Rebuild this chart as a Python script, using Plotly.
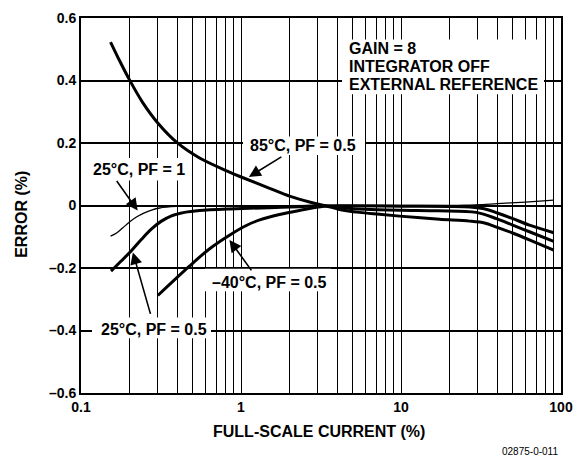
import math
import plotly.graph_objects as go

# Full-scale current (%) and error (%) for each measurement condition
current_85c = [0.153, 0.174, 0.201, 0.242, 0.301, 0.399, 0.551, 0.847, 0.993, 1.51, 2.01, 2.68, 3.3,
               4.13, 5.5, 7.34, 9.8, 17.4, 26.8, 33.3, 39.5, 49.8, 63.5, 90]
error_85c = [0.523, 0.464, 0.402, 0.331, 0.265, 0.201, 0.152, 0.107, 0.092, 0.055, 0.030, 0.011, 0.0,
             -0.0125, -0.022, -0.028, -0.034, -0.044, -0.050, -0.056, -0.069, -0.088, -0.11, -0.143]

current_25c_pf05 = [0.154, 0.179, 0.207, 0.239, 0.276, 0.318, 0.368, 0.444, 0.551, 0.847, 1.51, 2.32, 3.3,
                    4.4, 6.0, 10, 17, 29.5, 39.5, 49.5, 63.5, 90]
error_25c_pf05 = [-0.21, -0.177, -0.144, -0.108, -0.075, -0.050, -0.033, -0.022, -0.016, -0.011, -0.007, -0.004, -0.001,
                  -0.008, -0.012, -0.015, -0.017, -0.022, -0.042, -0.062, -0.084, -0.115]

current_m40c = [0.302, 0.476, 0.634, 0.847, 1.08, 1.31, 1.74, 2.32, 3.3,
                4.4, 10, 20, 27, 34, 40, 50, 63.5, 90]
error_m40c = [-0.288, -0.194, -0.139, -0.095, -0.064, -0.046, -0.029, -0.016, -0.0025,
              -0.001, -0.002, -0.003, -0.005, -0.012, -0.024, -0.042, -0.063, -0.087]

current_25c_pf1 = [0.153, 0.167, 0.182, 0.201, 0.222, 0.249, 0.276, 0.31, 0.395, 0.55, 1.0, 3.3, 10, 25, 40, 60, 90]
error_25c_pf1 = [-0.098, -0.088, -0.072, -0.053, -0.037, -0.0235, -0.0145, -0.008, -0.003, -0.0015, -0.0005, 0, 0, 0.001, 0.006, 0.011, 0.017]

x_tick_vals = [0.1, 1, 10, 100]
x_tick_text = ["0.1", "1", "10", "100"]
y_tick_vals = [0.6, 0.4, 0.2, 0, -0.2, -0.4, -0.6]
y_tick_text = ["0.6", "0.4", "0.2", "0", "\u20130.2", "\u20130.4", "\u20130.6"]
minor_x = [m * d for d in (0.1, 1, 10) for m in range(2, 10)]

W, H = 584, 461
ML, MR, MT, MB = 81, 23, 10, 68
PW, PH = W - ML - MR, H - MT - MB
FONT = "Liberation Sans, Arial, Helvetica, sans-serif"


def px(xp):
    return (xp - ML) / PW


def py(yp):
    return (H - MB - yp) / PH


fig = go.Figure()

series = [
    (current_85c, error_85c, 3.0),
    (current_25c_pf05, error_25c_pf05, 3.0),
    (current_m40c, error_m40c, 3.0),
    (current_25c_pf1, error_25c_pf1, 1.3),
]
for xs, ys, w in series:
    fig.add_trace(go.Scatter(
        x=xs, y=ys, mode="lines",
        line=dict(color="black", width=w, shape="spline", smoothing=0.9),
        showlegend=False, hoverinfo="skip",
    ))

# white boxes that interrupt the grid behind the labels
boxes = [
    (342, 32, 544, 88),
    (243, 131, 365, 150),
    (88, 153, 190, 176),
    (205, 266, 331, 289),
    (92, 316, 211, 337),
]
for x0, y0, x1, y1 in boxes:
    fig.add_shape(type="rect", xref="paper", yref="paper",
                  x0=px(x0), x1=px(x1), y0=py(y1), y1=py(y0),
                  fillcolor="white", line=dict(width=0), layer="above")

label_font = dict(family=FONT, size=16, color="black", weight="bold")
labels = [
    ("GAIN = 8", 348, 41.5, "left"),
    ("INTEGRATOR OFF", 348, 59.5, "left"),
    ("EXTERNAL REFERENCE", 348, 77.5, "left"),
    ("85\u00b0C, PF = 0.5", 303, 140.5, "center"),
    ("25\u00b0C, PF = 1", 139, 164.5, "center"),
    ("\u201340\u00b0C, PF = 0.5", 269, 280, "center"),
    ("25\u00b0C, PF = 0.5", 153.5, 328, "center"),
]
for text, xp, yp, anchor in labels:
    fig.add_annotation(text=text, xref="paper", yref="paper", x=px(xp), y=py(yp),
                       xanchor=anchor, yanchor="middle", showarrow=False,
                       font=label_font, borderpad=0)

# leader arrows: tip on the curve, tail offset in pixels
arrows = [
    (1.12, 0.0915, 34, -21),
    (0.226, -0.016, -22, -31),
    (0.211, -0.15, 18, 63),
    (0.847, -0.11, 23, 32),
]
for xt, yt, axp, ayp in arrows:
    fig.add_annotation(x=math.log10(xt), y=yt, xref="x", yref="y", text="",
                       showarrow=True, ax=axp, ay=ayp, arrowhead=2, arrowsize=1.5,
                       arrowwidth=1.6, arrowcolor="black", standoff=0)

title_font = dict(family=FONT, size=16, color="black", weight="bold")
fig.add_annotation(text="ERROR (%)", xref="paper", yref="paper", x=px(22), y=py(211),
                   textangle=-90, showarrow=False, font=title_font,
                   xanchor="center", yanchor="middle")
fig.add_annotation(text="FULL-SCALE CURRENT (%)", xref="paper", yref="paper",
                   x=px(319), y=py(432), showarrow=False, font=title_font,
                   xanchor="center", yanchor="middle")
fig.add_annotation(text="02875-0-011", xref="paper", yref="paper", x=px(560), y=py(453),
                   showarrow=False, font=dict(family=FONT, size=10, color="black"),
                   xanchor="right", yanchor="middle")

tick_font = dict(family=FONT, size=14, color="black", weight="bold")
fig.update_xaxes(
    type="log", range=[-1, 2],
    tickvals=x_tick_vals, ticktext=x_tick_text, tickfont=tick_font,
    showgrid=True, gridcolor="black", gridwidth=1.2,
    minor=dict(tickvals=minor_x, showgrid=True, gridcolor="black", gridwidth=1.2, ticks=""),
    showline=True, linecolor="black", linewidth=2, mirror=True,
    ticks="", zeroline=False,
)
fig.update_yaxes(
    range=[-0.6, 0.6],
    tickvals=y_tick_vals, ticktext=y_tick_text, tickfont=tick_font,
    showgrid=True, gridcolor="black", gridwidth=2,
    showline=True, linecolor="black", linewidth=2, mirror=True,
    ticks="", zeroline=False,
)
fig.update_layout(
    width=W, height=H,
    margin=dict(l=ML, r=MR, t=MT, b=MB, pad=0),
    plot_bgcolor="white", paper_bgcolor="white",
    font=dict(family=FONT),
)

fig.write_html("out.html")
